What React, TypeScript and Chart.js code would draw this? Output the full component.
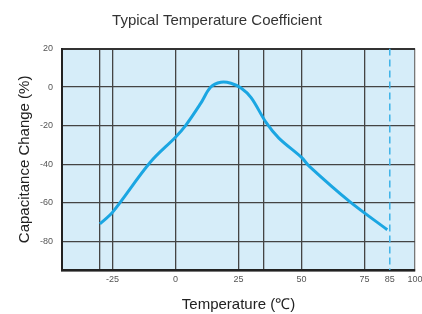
import React, { useEffect, useRef } from "react";
import { Chart, registerables } from "chart.js";

Chart.register(...registerables);

const chartTitle = "Typical Temperature Coefficient";
const xAxisTitle = "Temperature (℃)";
const yAxisTitle = "Capacitance Change (%)";

// curve: temperature (°C) and capacitance change (%)
const temperatures = [-30, -25, -10, 0, 4, 10, 14, 18, 22, 26, 30, 36, 41, 50, 53, 69, 84];
const capChange = [-71, -65, -39, -26, -20, -8.5, 0, 2.5, 2, -0.5, -5.5, -18.5, -26.5, -36.5, -41, -59.3, -74];

// rated temperature marker
const markerTemp = [85, 85];
const markerRange = [20, -95];

// axis ranges and ticks
const xMin = -45;
const xMax = 95;
const xTickValues = [-45, -30, -25, 0, 25, 35, 50, 75, 85, 95];
const xTickLabels = ["", "", "-25", "0", "25", "", "50", "75", "85", "100"];
const yMin = -95;
const yMax = 20;
const yTickValues = [-95, -80, -60, -40, -20, 0, 20];
const yTickLabels = ["", "-80", "-60", "-40", "-20", "0", "20"];

const plotBg = {
  id: "plotBg",
  beforeDraw(chart: any) {
    const { ctx, chartArea } = chart;
    if (!chartArea) return;
    ctx.save();
    ctx.fillStyle = "#d6edf9";
    ctx.fillRect(chartArea.left, chartArea.top, chartArea.right - chartArea.left, chartArea.bottom - chartArea.top);
    ctx.restore();
  },
};

export default function App() {
  const ref = useRef<HTMLCanvasElement | null>(null);

  useEffect(() => {
    if (!ref.current) return;
    const chart = new Chart(ref.current, {
      type: "scatter",
      data: {
        datasets: [
          {
            data: temperatures.map((t, i) => ({ x: t, y: capChange[i] })),
            showLine: true,
            borderColor: "#1ba6e2",
            borderWidth: 3,
            pointRadius: 0,
            tension: 0.35,
            fill: false,
          },
          {
            data: markerTemp.map((t, i) => ({ x: t, y: markerRange[i] })),
            showLine: true,
            borderColor: "#3db2e8",
            borderWidth: 1.5,
            borderDash: [7, 4],
            pointRadius: 0,
          },
        ],
      },
      options: {
        animation: false,
        responsive: true,
        maintainAspectRatio: false,
        layout: { autoPadding: false, padding: { left: 19, right: 7, top: 0, bottom: 0 } },
        plugins: {
          legend: { display: false },
          tooltip: { enabled: false },
          title: {
            display: true,
            text: chartTitle,
            color: "#333",
            font: { family: "Liberation Sans, Arial, sans-serif", size: 15, weight: "normal" },
            padding: { top: 12, bottom: 18.5 },
          },
        },
        scales: {
          x: {
            type: "linear",
            min: xMin,
            max: xMax,
            afterBuildTicks: (scale: any) => {
              scale.ticks = xTickValues.map((v) => ({ value: v }));
            },
            afterFit: (scale: any) => {
              scale.paddingRight = 0;
              scale.paddingLeft = 0;
            },
            ticks: {
              autoSkip: false,
              maxRotation: 0,
              color: "#555",
              font: { family: "Liberation Sans, Arial, sans-serif", size: 9 },
              padding: 4,
              callback: (v: any) => {
                const i = xTickValues.indexOf(Number(v));
                return i >= 0 ? xTickLabels[i] : "";
              },
            },
            grid: {
              drawTicks: false,
              lineWidth: 1.3,
              color: (c: any) => {
                const v = c.tick ? c.tick.value : null;
                if (v === 85) return "rgba(0,0,0,0)";
                if (v === 95) return "#777";
                return "#444";
              },
            },
            border: { color: "#222", width: 2.5 },
            title: {
              display: true,
              text: xAxisTitle,
              color: "#222",
              font: { family: "Liberation Sans, Arial, sans-serif", size: 15 },
              padding: { top: 7, bottom: 0 },
            },
          },
          y: {
            type: "linear",
            min: yMin,
            max: yMax,
            afterBuildTicks: (scale: any) => {
              scale.ticks = yTickValues.map((v) => ({ value: v }));
            },
            ticks: {
              autoSkip: false,
              color: "#555",
              font: { family: "Liberation Sans, Arial, sans-serif", size: 9 },
              padding: 9,
              callback: (v: any) => {
                const i = yTickValues.indexOf(Number(v));
                return i >= 0 ? yTickLabels[i] : "";
              },
            },
            grid: {
              drawTicks: false,
              lineWidth: (c: any) => (c.tick && c.tick.value === 20 ? 2 : 1.3),
              color: (c: any) => (c.tick && c.tick.value === 20 ? "#333" : "#444"),
            },
            border: { color: "#222", width: 2 },
            title: {
              display: true,
              text: yAxisTitle,
              color: "#222",
              font: { family: "Liberation Sans, Arial, sans-serif", size: 15, lineHeight: 0.8 },
              padding: { top: 0, bottom: 0 },
            },
          },
        },
      },
      plugins: [plotBg],
    } as any);
    return () => chart.destroy();
  }, []);

  return (
    <div style={{ position: "fixed", left: 0, top: 0, width: 422, height: 314, background: "#fff" }}>
      <canvas ref={ref} />
    </div>
  );
}
